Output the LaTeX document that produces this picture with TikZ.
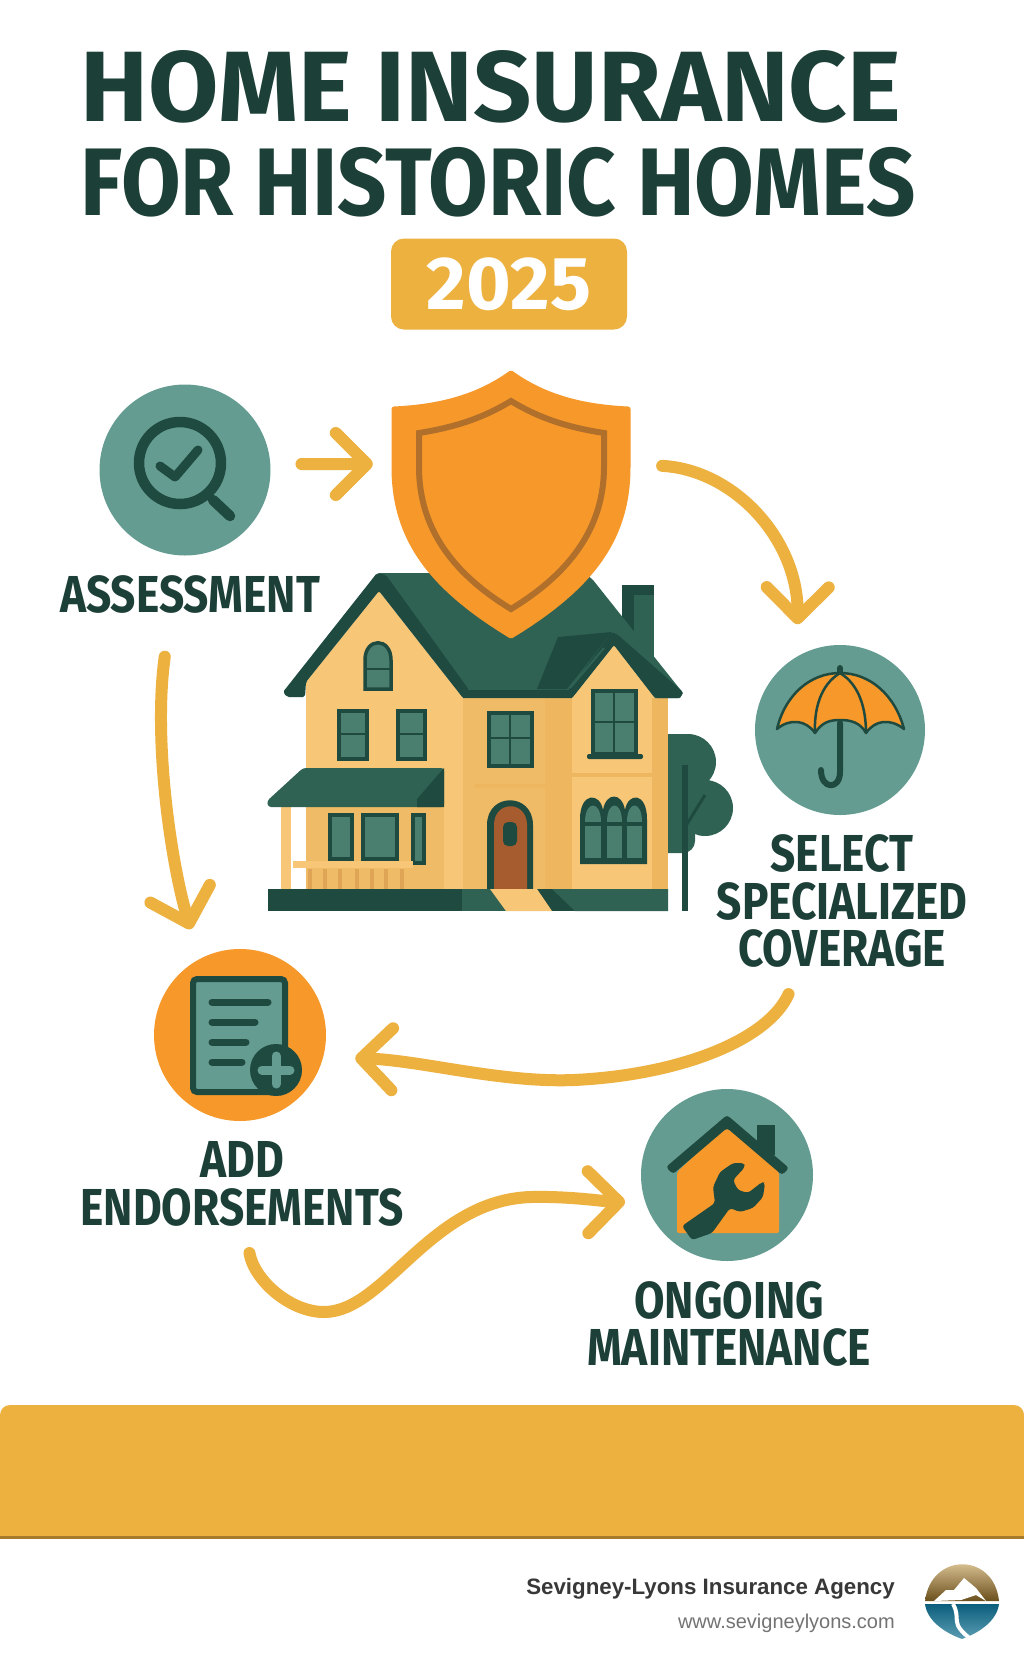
\documentclass[tikz,border=0pt]{standalone}
\usepackage{fontspec}
\usetikzlibrary{arrows.meta}
\setmainfont{Fira Sans}
\newfontfamily\titlefont[FakeStretch=0.9]{Fira Sans}
\newfontfamily\widefont[FakeStretch=1.02]{Fira Sans}
\newfontfamily\labelfont[FakeStretch=0.85]{Fira Sans}
\newfontfamily\footfont{Liberation Sans}
\definecolor{amberflow}{HTML}{EDB13F}
\definecolor{orangefill}{HTML}{F7982A}
\definecolor{tealdisc}{HTML}{659C92}
\definecolor{darkgreen}{HTML}{1F4A40}
\definecolor{roofgreen}{HTML}{2F6253}
\definecolor{wallpale}{HTML}{F8C677}
\definecolor{wallshade}{HTML}{EDB65F}
\definecolor{panegreen}{HTML}{4A7F70}
\definecolor{doorbrown}{HTML}{A65C2E}
\definecolor{shieldline}{HTML}{B06F2A}
\definecolor{titlegreen}{HTML}{1C3F37}
\definecolor{logoblue}{HTML}{0B5E7C}
\definecolor{logopale}{HTML}{5C9DB3}

\begin{document}
\begin{tikzpicture}[x=1pt,y=-1pt,
	flow/.style={draw=amberflow,line width=12pt,line cap=round,-{Straight Barb[length=31pt,width=62pt,round]}},
	iconbase/.style={circle,inner sep=0pt,minimum size=#1},
	steplabel/.style={inner sep=0pt,align=center,text=titlegreen,font=\labelfont\bfseries\fontsize{52}{47.5}\selectfont},
	pane/.style={fill=panegreen,draw=darkgreen,line width=3.5pt},
	glyph/.style={draw=darkgreen,line cap=round,line join=round}]
	\useasboundingbox (0,0) rectangle (1024,1666);
	\fill[white] (0,0) rectangle (1024,1666);

	% heading
	\node[inner sep=0pt,text=titlegreen,font=\widefont\bfseries\fontsize{100}{100}\selectfont] (titleA) at (491,87) {HOME INSURANCE};
	\node[inner sep=0pt,text=titlegreen,font=\titlefont\bfseries\fontsize{96}{96}\selectfont] (titleB) at (498,182) {FOR HISTORIC HOMES};
	\node[fill=amberflow,rounded corners=13pt,minimum width=236pt,minimum height=91pt,inner sep=0pt,text=white,font=\widefont\bfseries\fontsize{75}{75}\selectfont] (year) at (509,284) {2025};

	% tree and chimney behind the house
	\begin{scope}
		\clip (668,720) rectangle (760,870);
		\fill[roofgreen] (688,762) circle[radius=28pt] (705,808) circle[radius=28pt];
		\fill[roofgreen,rounded corners=12pt] (650,734) rectangle (695,853);
	\end{scope}
	\draw[darkgreen,line width=6pt] (685,765) -- (685,911);
	\draw[darkgreen,line width=3pt] (687,824) -- (705,795);
	\fill[darkgreen] (622,585) rectangle (654,657);
	\fill[roofgreen] (634,595) rectangle (654,657);

	% walls
	\fill[wallpale] (306,682) -- (379,591) -- (463,698) -- (463,889) -- (306,889) -- cycle;
	\fill[wallshade!70!wallpale] (463,698) rectangle (545,889);
	\fill[wallshade] (545,698) rectangle (572,889);
	\fill[wallpale] (572,698) -- (614,645) -- (655,698) -- (652,889) -- (572,889) -- cycle;
	\fill[wallshade] (652,698) rectangle (668,889);
	\fill[wallshade!70!wallpale] (306,807) rectangle (444,889);
	\fill[wallpale] (281,807) rectangle (291,889);
	\fill[wallshade] (474,784) rectangle (545,788);
	\fill[wallshade] (572,773) rectangle (652,777);

	% roof
	\fill[roofgreen] (377,573) -- (585,573) -- (593,580) -- (683,693) -- (680,698) -- (655,698) -- (614,645) -- (572,698) -- (463,698) -- (383,575) -- cycle;
	\fill[darkgreen,rounded corners=2pt] (283,692) -- (377,573) -- (386,575) -- (469,690) -- (463,698) -- (379,591) -- (306,682) -- (305,697) -- (287,697) -- cycle;
	\fill[darkgreen] (463,690) rectangle (572,698);
	\fill[darkgreen] (537,689) -- (558,637) -- (612,632) -- (567,689) -- cycle;
	\fill[darkgreen,rounded corners=2pt] (567,692) -- (612,632) -- (618,635) -- (683,692) -- (680,698) -- (655,698) -- (614,645) -- (572,698) -- cycle;
	\draw[roofgreen,line width=2pt] (570,688) -- (604,648);

	% windows
	\foreach \xa/\ya/\xb/\yb in {339/711/367/759,398/711/425/759,489/713/532/766,593/691/636/754,330/815/352/859,363/815/397/859,413/815/424/863}
		{\draw[pane] (\xa,\ya) rectangle (\xb,\yb);}
	\draw[pane] (365,689) -- (365,660) .. controls (365,637) and (391,637) .. (391,660) -- (391,689) -- cycle;
	\draw[darkgreen,line width=2pt] (365,669) -- (391,669) (339,734) -- (367,734) (398,734) -- (425,734) (489,738) -- (532,738) (510,713) -- (510,766) (593,722) -- (636,722) (614,691) -- (614,754);
	\fill[darkgreen,rounded corners=2pt] (587,754) rectangle (643,759);

	% porch roof and railing
	\fill[roofgreen,rounded corners=3pt] (303,768) -- (444,768) -- (444,807) -- (268,807) -- (267,801) -- cycle;
	\fill[darkgreen] (417,799) -- (444,768) -- (444,807) -- (417,807) -- cycle;
	\fill[wallpale] (293,861) rectangle (413,868);
	\foreach \xa in {310,325,340,357,372,386,402}
		{\fill[wallshade!80!doorbrown] (\xa-2,869) rectangle (\xa+2,889);}

	% door and arched window
	\fill[darkgreen] (487,889) -- (487,825) .. controls (487,792) and (533,792) .. (533,825) -- (533,889) -- cycle;
	\fill[doorbrown] (494,889) -- (494,825) .. controls (494,800) and (527,800) .. (527,825) -- (527,889) -- cycle;
	\fill[darkgreen,rounded corners=5pt] (503,822) rectangle (517,846);
	\begin{scope}[shift={(0,-3)}]
		\fill[darkgreen] (580,867) -- (580,822) .. controls (580,795) and (600,795) .. (603,813) .. controls (606,795) and (622,795) .. (625,813) .. controls (628,795) and (647,795) .. (647,822) -- (647,867) -- cycle;
		\foreach \xa/\xb in {585/601,607/622,627/642}
			{\fill[panegreen] (\xa,829) rectangle (\xb,861);
			\fill[panegreen] (\xa,825) .. controls (\xa,803) and (\xb,803) .. (\xb,825) -- cycle;}
	\end{scope}

	% plinth and steps
	\fill[darkgreen] (268,889) rectangle (668,911);
	\fill[roofgreen] (462,889) rectangle (506,911);
	\fill[roofgreen] (552,889) -- (668,889) -- (668,911) -- (575,911) -- cycle;
	\fill[wallpale] (490,889) -- (537,889) -- (552,911) -- (506,911) -- cycle;

	% shield
	\node[inner sep=0pt,minimum width=238pt,minimum height=186pt] (shield) at (511,464) {};
	\draw[fill=orangefill,draw=orangefill,line width=5pt,line join=round] (394,467) -- (394,409) .. controls (435,407) and (475,399) .. (511,373) .. controls (547,399) and (587,407) .. (628,409) -- (628,467) .. controls (628,540) and (590,588) .. (511,636) .. controls (432,588) and (394,540) .. (394,467) -- cycle;
	\draw[shieldline,line width=6pt] (419,467) -- (419,433) .. controls (450,428) and (480,420) .. (511,401) .. controls (542,420) and (572,428) .. (604,433) -- (604,467) .. controls (604,530) and (567,575) .. (511,609) .. controls (455,575) and (419,530) .. (419,467) -- cycle;

	% step icons
	\node[iconbase=171pt,fill=tealdisc] (assess) at (185,470) {};
	\draw[glyph,line width=10.5pt] (180,463) circle[radius=41pt] (213,500) -- (230,516);
	\draw[glyph,line width=9pt] (160,466) -- (175,477) -- (198,450);

	\node[iconbase=170pt,fill=tealdisc] (select) at (840,730) {};
	\draw[glyph,line width=6pt] (840,723) -- (840,772) .. controls (840,790) and (821,790) .. (821,770);
	\draw[glyph,line width=6pt] (840,674) -- (840,668);
	\draw[fill=orangefill,draw=darkgreen,line width=2.5pt,line join=round] (777,729) .. controls (785,695) and (810,673) .. (840,673) .. controls (870,673) and (895,695) .. (904,729) .. controls (890,718) and (875,720) .. (866,733) .. controls (860,722) and (850,720) .. (840,720) .. controls (830,720) and (822,722) .. (815,733) .. controls (806,720) and (790,718) .. (777,729) -- cycle;
	\draw[darkgreen,line width=2.5pt] (840,673) .. controls (820,685) and (814,710) .. (815,733) (840,673) .. controls (860,685) and (866,710) .. (866,733);

	\node[iconbase=172pt,fill=orangefill] (addIcon) at (240,1035) {};
	\draw[fill=tealdisc,draw=darkgreen,line width=6pt,rounded corners=4pt] (193,979) rectangle (285,1092);
	\foreach \xa/\ya in {268/1002,255/1022,246/1042,242/1062}
		{\draw[glyph,line width=7pt] (212,\ya) -- (\xa,\ya);}
	\fill[darkgreen] (276,1070) circle[radius=26pt];
	\draw[tealdisc,line width=9pt,line cap=round] (262,1070) -- (290,1070) (276,1056) -- (276,1084);

	\node[iconbase=172pt,fill=tealdisc] (ongoing) at (727,1175) {};
	\fill[darkgreen] (757,1125) rectangle (775,1155);
	\fill[orangefill,rounded corners=2pt] (677,1233) -- (677,1172) -- (727,1125) -- (779,1172) -- (779,1233) -- cycle;
	\fill[darkgreen,rounded corners=3pt] (666,1167) -- (727,1115) -- (789,1168) -- (782,1175) -- (727,1128) -- (673,1174) -- cycle;
	\fill[darkgreen,rounded corners=3pt] (682,1226) -- (715,1203) -- (713,1187) -- (720,1172) -- (733,1163) -- (744,1163) -- (745,1167) -- (733,1180) -- (738,1190) -- (748,1193) -- (762,1182) -- (765,1183) -- (763,1197) -- (753,1208) -- (740,1212) -- (730,1208) -- (712,1233) -- (692,1240) -- cycle;

	% step labels
	\node[steplabel] (assessLabel) at (190,594) {ASSESSMENT};
	\node[steplabel] (selectLabel) at (842,901) {SELECT\\SPECIALIZED\\COVERAGE};
	\node[steplabel] (addLabel) at (242,1184) {ADD\\ENDORSEMENTS};
	\node[steplabel] (ongoingLabel) at (729,1324) {ONGOING\\MAINTENANCE};

	% connectors
	\draw[flow,shorten <=31pt,shorten >=19pt] (assess.4) -- (shield.west);
	\draw[flow,shorten <=32pt,shorten >=32pt] (shield.east) .. controls (735,470) and (798,540) .. (select.120);
	\draw[flow,shorten <=44pt,shorten >=31pt] (assessLabel.-135) .. controls (153,740) and (171,863) .. (addIcon.118);
	\draw[flow,shorten <=29pt,shorten >=32pt] (selectLabel.-122) .. controls (768,1040) and (680,1075) .. (574,1080) .. controls (500,1083) and (420,1060) .. (addIcon.-15);
	\draw[flow,shorten <=27pt,shorten >=20pt] (addLabel.-86) .. controls (254,1280) and (290,1312) .. (324,1312) .. controls (385,1312) and (430,1200) .. (531,1197) .. controls (570,1196) and (610,1202) .. (ongoing.198.3);

	% banner and footer
	\fill[amberflow] (0,1537) [rounded corners=10pt] -- (0,1405) -- (1024,1405) [sharp corners] -- (1024,1537) -- cycle;
	\fill[amberflow!70!black] (0,1536) rectangle (1024,1539);
	\node[anchor=east,inner sep=0pt,text=black!78,font=\footfont\bfseries\fontsize{22.3}{23}\selectfont] (agency) at (895,1589) {Sevigney-Lyons Insurance Agency};
	\node[anchor=east,inner sep=0pt,text=black!55,font=\footfont\fontsize{20}{20}\selectfont] (website) at (895,1623) {www.sevigneylyons.com};

	% logo
	\shade[top color=amberflow!40!white,bottom color=amberflow!45!black] (925,1601) .. controls (931,1552) and (994,1552) .. (999,1601) -- cycle;
	\shade[top color=logoblue,bottom color=logopale] (925,1604) -- (999,1604) .. controls (997,1620) and (981,1632) .. (962,1639) .. controls (943,1632) and (927,1620) .. (925,1604) -- cycle;
	\fill[white] (934,1601) -- (946,1590) -- (954,1590) -- (964,1578) -- (976,1588) -- (986,1601) -- (976,1595) -- (961,1600) -- cycle;
	\draw[white,line width=4pt] (953,1604) .. controls (962,1620) and (948,1622) .. (972,1640);
\end{tikzpicture}
\end{document}
